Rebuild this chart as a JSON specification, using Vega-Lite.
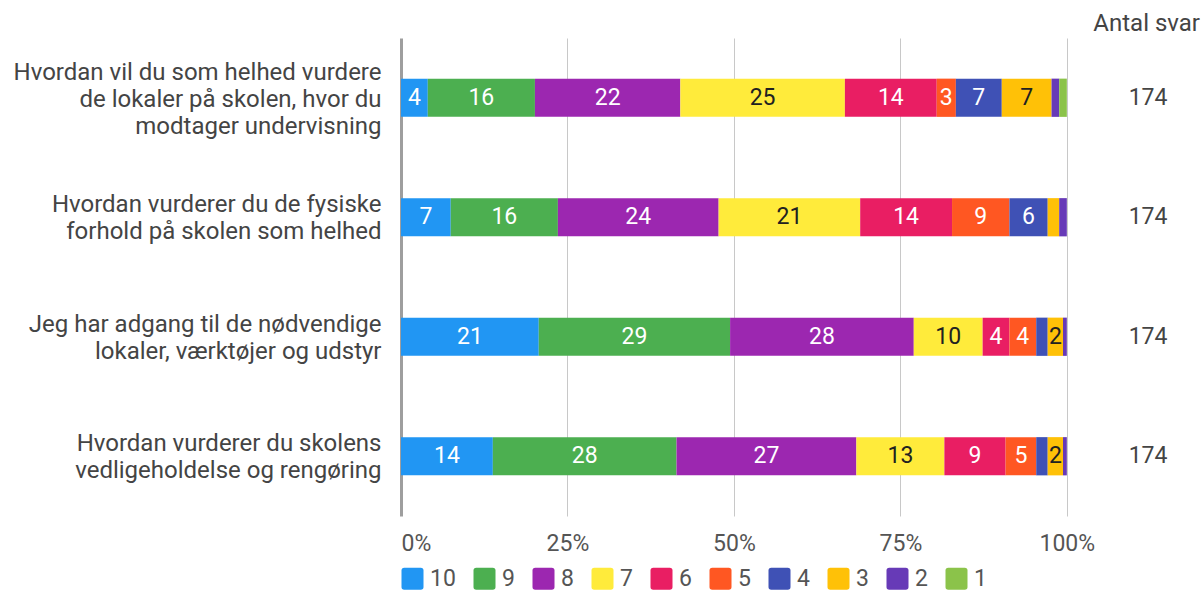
{
  "$schema": "https://vega.github.io/schema/vega-lite/v6.json",
  "autosize": "none",
  "width": 799,
  "height": 478,
  "padding": {"left": 401, "top": 38, "right": 4, "bottom": 76},
  "background": "white",
  "config": {
    "font": "Roboto",
    "view": {"stroke": null}
  },
  "title": {
    "text": "Antal svar",
    "anchor": "end",
    "fontSize": 24,
    "fontWeight": "normal",
    "color": "#444444",
    "font": "Roboto",
    "offset": 2
  },
  "data": {
    "values": [
      {"question": "Hvordan vil du som helhed vurdere|de lokaler på skolen, hvor du|modtager undervisning", "rating": 10, "count": 7, "pct": 4.02, "total": 174},
      {"question": "Hvordan vil du som helhed vurdere|de lokaler på skolen, hvor du|modtager undervisning", "rating": 9, "count": 28, "pct": 16.09, "total": 174},
      {"question": "Hvordan vil du som helhed vurdere|de lokaler på skolen, hvor du|modtager undervisning", "rating": 8, "count": 38, "pct": 21.84, "total": 174},
      {"question": "Hvordan vil du som helhed vurdere|de lokaler på skolen, hvor du|modtager undervisning", "rating": 7, "count": 43, "pct": 24.71, "total": 174},
      {"question": "Hvordan vil du som helhed vurdere|de lokaler på skolen, hvor du|modtager undervisning", "rating": 6, "count": 24, "pct": 13.79, "total": 174},
      {"question": "Hvordan vil du som helhed vurdere|de lokaler på skolen, hvor du|modtager undervisning", "rating": 5, "count": 5, "pct": 2.87, "total": 174},
      {"question": "Hvordan vil du som helhed vurdere|de lokaler på skolen, hvor du|modtager undervisning", "rating": 4, "count": 12, "pct": 6.90, "total": 174},
      {"question": "Hvordan vil du som helhed vurdere|de lokaler på skolen, hvor du|modtager undervisning", "rating": 3, "count": 13, "pct": 7.47, "total": 174},
      {"question": "Hvordan vil du som helhed vurdere|de lokaler på skolen, hvor du|modtager undervisning", "rating": 2, "count": 2, "pct": 1.15, "total": 174},
      {"question": "Hvordan vil du som helhed vurdere|de lokaler på skolen, hvor du|modtager undervisning", "rating": 1, "count": 2, "pct": 1.15, "total": 174},
      {"question": "Hvordan vurderer du de fysiske|forhold på skolen som helhed", "rating": 10, "count": 13, "pct": 7.47, "total": 174},
      {"question": "Hvordan vurderer du de fysiske|forhold på skolen som helhed", "rating": 9, "count": 28, "pct": 16.09, "total": 174},
      {"question": "Hvordan vurderer du de fysiske|forhold på skolen som helhed", "rating": 8, "count": 42, "pct": 24.14, "total": 174},
      {"question": "Hvordan vurderer du de fysiske|forhold på skolen som helhed", "rating": 7, "count": 37, "pct": 21.26, "total": 174},
      {"question": "Hvordan vurderer du de fysiske|forhold på skolen som helhed", "rating": 6, "count": 24, "pct": 13.79, "total": 174},
      {"question": "Hvordan vurderer du de fysiske|forhold på skolen som helhed", "rating": 5, "count": 15, "pct": 8.62, "total": 174},
      {"question": "Hvordan vurderer du de fysiske|forhold på skolen som helhed", "rating": 4, "count": 10, "pct": 5.75, "total": 174},
      {"question": "Hvordan vurderer du de fysiske|forhold på skolen som helhed", "rating": 3, "count": 3, "pct": 1.72, "total": 174},
      {"question": "Hvordan vurderer du de fysiske|forhold på skolen som helhed", "rating": 2, "count": 2, "pct": 1.15, "total": 174},
      {"question": "Jeg har adgang til de nødvendige|lokaler, værktøjer og udstyr", "rating": 10, "count": 36, "pct": 20.69, "total": 174},
      {"question": "Jeg har adgang til de nødvendige|lokaler, værktøjer og udstyr", "rating": 9, "count": 50, "pct": 28.74, "total": 174},
      {"question": "Jeg har adgang til de nødvendige|lokaler, værktøjer og udstyr", "rating": 8, "count": 48, "pct": 27.59, "total": 174},
      {"question": "Jeg har adgang til de nødvendige|lokaler, værktøjer og udstyr", "rating": 7, "count": 18, "pct": 10.34, "total": 174},
      {"question": "Jeg har adgang til de nødvendige|lokaler, værktøjer og udstyr", "rating": 6, "count": 7, "pct": 4.02, "total": 174},
      {"question": "Jeg har adgang til de nødvendige|lokaler, værktøjer og udstyr", "rating": 5, "count": 7, "pct": 4.02, "total": 174},
      {"question": "Jeg har adgang til de nødvendige|lokaler, værktøjer og udstyr", "rating": 4, "count": 3, "pct": 1.72, "total": 174},
      {"question": "Jeg har adgang til de nødvendige|lokaler, værktøjer og udstyr", "rating": 3, "count": 4, "pct": 2.30, "total": 174},
      {"question": "Jeg har adgang til de nødvendige|lokaler, værktøjer og udstyr", "rating": 2, "count": 1, "pct": 0.57, "total": 174},
      {"question": "Hvordan vurderer du skolens|vedligeholdelse og rengøring", "rating": 10, "count": 24, "pct": 13.79, "total": 174},
      {"question": "Hvordan vurderer du skolens|vedligeholdelse og rengøring", "rating": 9, "count": 48, "pct": 27.59, "total": 174},
      {"question": "Hvordan vurderer du skolens|vedligeholdelse og rengøring", "rating": 8, "count": 47, "pct": 27.01, "total": 174},
      {"question": "Hvordan vurderer du skolens|vedligeholdelse og rengøring", "rating": 7, "count": 23, "pct": 13.22, "total": 174},
      {"question": "Hvordan vurderer du skolens|vedligeholdelse og rengøring", "rating": 6, "count": 16, "pct": 9.20, "total": 174},
      {"question": "Hvordan vurderer du skolens|vedligeholdelse og rengøring", "rating": 5, "count": 8, "pct": 4.60, "total": 174},
      {"question": "Hvordan vurderer du skolens|vedligeholdelse og rengøring", "rating": 4, "count": 3, "pct": 1.72, "total": 174},
      {"question": "Hvordan vurderer du skolens|vedligeholdelse og rengøring", "rating": 3, "count": 4, "pct": 2.30, "total": 174},
      {"question": "Hvordan vurderer du skolens|vedligeholdelse og rengøring", "rating": 2, "count": 1, "pct": 0.57, "total": 174}
    ]
  },
  "transform": [
    {"stack": "count", "groupby": ["question"], "sort": [{"field": "rating", "order": "descending"}], "offset": "normalize", "as": ["x0", "x1"]},
    {"calculate": "(datum.x0 + datum.x1) / 2", "as": "xm"}
  ],
  "encoding": {
    "y": {
      "field": "question",
      "type": "nominal",
      "sort": null,
      "title": null,
      "scale": {"paddingInner": 0.68, "paddingOuter": 0.34},
      "axis": {
        "labelExpr": "split(datum.label, '|')",
        "labelFontSize": 24,
        "labelColor": "#444444",
        "labelFont": "Roboto",
        "labelLineHeight": 27,
        "labelPadding": 20,
        "labelLimit": 420,
        "labelOffset": {"condition": {"test": "length(split(datum.label, '|')) > 2", "value": -25}, "value": -12},
        "ticks": false,
        "domain": false
      }
    }
  },
  "layer": [
    {
      "mark": {"type": "bar"},
      "encoding": {
        "x": {
          "field": "x0",
          "type": "quantitative",
          "title": null,
          "scale": {"domain": [0, 1.2], "nice": false, "zero": true},
          "axis": {
            "values": [0, 0.25, 0.5, 0.75, 1],
            "format": "%",
            "labelFontSize": 23,
            "labelColor": "#555555",
            "labelFont": "Roboto",
            "labelPadding": 16,
            "labelFlush": true,
            "ticks": false,
            "domain": false,
            "grid": true,
            "gridColor": {"condition": {"test": "datum.value == 0", "value": "#9e9e9e"}, "value": "#c8c8c8"},
            "gridWidth": {"condition": {"test": "datum.value == 0", "value": 3}, "value": 1}
          }
        },
        "x2": {"field": "x1"},
        "color": {
          "field": "rating",
          "type": "nominal",
          "scale": {
            "domain": [10, 9, 8, 7, 6, 5, 4, 3, 2, 1],
            "range": ["#2196F3", "#4CAF50", "#9C27B0", "#FFEB3B", "#E91E63", "#FF5722", "#3F51B5", "#FFC107", "#673AB7", "#8BC34A"]
          },
          "legend": {
            "orient": "bottom",
            "direction": "horizontal",
            "title": null,
            "symbolType": "M-0.75,-1H0.75Q1,-1,1,-0.75V0.75Q1,1,0.75,1H-0.75Q-1,1,-1,0.75V-0.75Q-1,-1,-0.75,-1Z",
            "symbolSize": 484,
            "symbolStrokeWidth": 0,
            "symbolOpacity": 1,
            "labelFontSize": 23,
            "labelColor": "#555555",
            "labelFont": "Roboto",
            "labelOffset": 6,
            "columnPadding": 17,
            "offset": 12
          }
        }
      }
    },
    {
      "transform": [{"filter": "datum.pct >= 2"}],
      "mark": {"type": "text", "fontSize": 23, "font": "Roboto", "align": "center", "baseline": "middle"},
      "encoding": {
        "x": {"field": "xm", "type": "quantitative"},
        "text": {"field": "pct", "type": "quantitative", "format": ".0f"},
        "color": {
          "condition": {"test": "datum.rating == 7 || datum.rating == 3", "value": "#212121"},
          "value": "#ffffff"
        }
      }
    },
    {
      "transform": [{"filter": "datum.rating == 10"}],
      "mark": {"type": "text", "fontSize": 23, "font": "Roboto", "align": "center", "baseline": "middle", "color": "#444444"},
      "encoding": {
        "x": {"datum": 1.122, "type": "quantitative"},
        "text": {"field": "total", "type": "quantitative"}
      }
    }
  ]
}
